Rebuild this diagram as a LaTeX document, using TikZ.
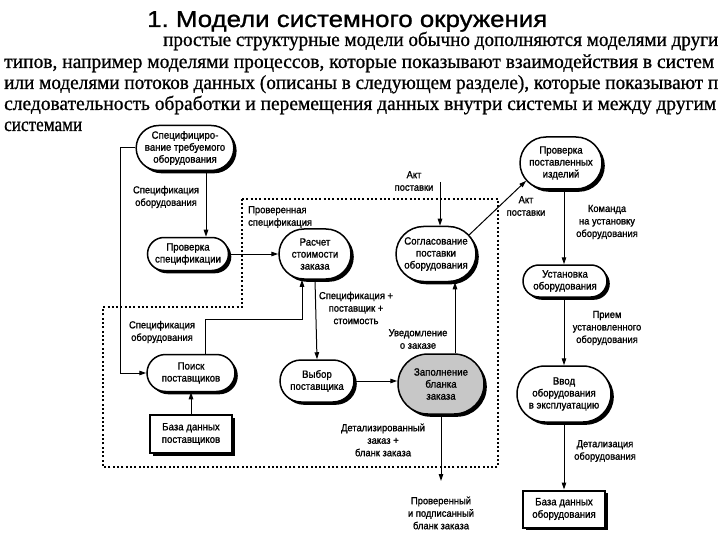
\documentclass[tikz,border=0pt]{standalone}
\usepackage{fontspec}
\setmainfont{Liberation Sans}
\newfontfamily\serifru[RawFeature={embolden=0.8}]{Liberation Serif}
\newfontfamily\diagfont[FakeStretch=0.92,RawFeature={embolden=1.2}]{Liberation Sans}
\newfontfamily\titlefont[RawFeature={embolden=1}]{Liberation Sans}
\usetikzlibrary{arrows.meta,shapes.misc,shadows}
\tikzset{
  shad/.style={drop shadow={shadow xshift=2.8pt,shadow yshift=-2.8pt,fill=black,opacity=1}},
  proc/.style={rounded rectangle, draw, line width=1.5pt, fill=white, align=center,
    inner sep=1pt, font=\diagfont\fontsize{10.5}{12}\selectfont, shad},
  store/.style={rectangle, draw, line width=2pt, fill=white, align=center,
    inner sep=1pt, font=\diagfont\fontsize{10.5}{12.5}\selectfont, shad},
  lbl/.style={align=center, inner sep=0pt, font=\diagfont\fontsize{10.2}{12.5}\selectfont},
  arr/.style={line width=1pt, -{Triangle[length=7pt,width=4.5pt]}},
  bound/.style={line width=1.8pt, dash pattern=on 2pt off 2.3pt},
  paraline/.style={anchor=base west, inner sep=0pt}
}
\newcommand{\pline}[2]{\resizebox{#1}{\height}{\serifru\fontsize{20}{22}\selectfont #2}}
\begin{document}
\begin{tikzpicture}[x=1pt,y=-1pt]
\useasboundingbox (0,0) rectangle (720,540);
\fill[white] (0,0) rectangle (720,540);

% title and text
\node[paraline] (title) at (147,27) {\resizebox{400pt}{\height}{\titlefont\fontsize{23}{26}\selectfont 1.\ Модели системного окружения}};
\node[paraline] (p1) at (163,46) {\pline{555pt}{простые структурные модели обычно дополняются моделями други}};
\node[paraline] (p2) at (4,68) {\pline{710pt}{типов, например моделями процессов, которые показывают взаимодействия в систем}};
\node[paraline] (p3) at (4,89) {\pline{714pt}{или моделями потоков данных (описаны в следующем разделе), которые показывают п}};
\node[paraline] (p4) at (4,110) {\pline{712pt}{следовательность обработки и перемещения данных внутри системы и между другим}};
\node[paraline] (p5) at (4,131) {\pline{78pt}{системами}};

% boundary
\draw[bound] (242,199) -- (498,199) -- (498,467) -- (103,467) -- (103,307) -- (242,307) -- cycle;

% nodes
\node[proc, minimum width=94pt, minimum height=45pt] (spec) at (185,148) {Специфициро-\\вание требуемого\\оборудования};
\node[proc, minimum width=83pt, minimum height=33pt] (chk) at (188,254) {Проверка\\спецификации};
\node[proc, minimum width=74pt, minimum height=50pt] (calc) at (315,254) {Расчет\\стоимости\\заказа};
\node[proc, minimum width=82pt, minimum height=55pt] (agree) at (436,254) {Согласование\\поставки\\оборудования};
\node[proc, minimum width=84pt, minimum height=52pt] (verify) at (561,163) {Проверка\\поставленных\\изделий};
\node[proc, minimum width=86pt, minimum height=32pt] (inst) at (565,281) {Установка\\оборудования};
\node[proc, minimum width=96pt, minimum height=56pt] (comm) at (564,394) {Ввод\\оборудования\\в эксплуатацию};
\node[store, minimum width=82pt, minimum height=37pt] (dbeq) at (564,509) {База данных\\оборудования};
\node[proc, minimum width=90pt, minimum height=37pt] (search) at (191,373) {Поиск\\поставщиков};
\node[store, minimum width=82pt, minimum height=38pt] (dbsup) at (191,434) {База данных\\поставщиков};
\node[proc, minimum width=76pt, minimum height=42pt] (sel) at (317,381) {Выбор\\поставщика};
\node[proc, minimum width=88pt, minimum height=60pt, fill=black!22] (fill) at (441,384) {Заполнение\\бланка\\заказа};

% helper coordinates
\coordinate (x120) at (120,0);
\coordinate (x205) at (205,0);
\coordinate (x206) at (206,0);
\coordinate (x302) at (302,0);
\coordinate (x440) at (440,0);
\coordinate (x455) at (455,0);
\coordinate (x564) at (564,0);
\coordinate (y319) at (0,319);
\coordinate (aktin) at (440,182);
\coordinate (outend) at (441,481);

% connectors
\draw[arr] (spec.south -| x206) -- (chk.north -| x206);
\draw[arr] (spec.west) -| (x120 |- search.west) -- (search.west);
\draw[arr] (chk.east) -- (calc.west);
\draw[arr] (search.north -| x205) -- (x205 |- y319) -| (calc.south -| x302);
\draw[arr] (calc.south) -- (sel.north);
\draw[arr] (sel.east) -- (sel.east -| fill.west);
\draw[arr] (fill.north -| x455) -- (agree.south -| x455);
\draw[arr] (fill.south) -- (outend);
\draw[arr] (aktin) -- (agree.north -| x440);
\draw[arr] (agree.30) -- (verify.207);
\draw[arr] (verify.south -| x564) -- (inst.north -| x564);
\draw[arr] (inst.south -| x564) -- (comm.north -| x564);
\draw[arr] (comm.south -| x564) -- (dbeq.north -| x564);
\draw[arr] (dbsup.north) -- (search.south);

% labels
\node[lbl] (l1) at (166,197) {Спецификация\\оборудования};
\node[lbl] (l2) at (162,332) {Спецификация\\оборудования};
\node[lbl, anchor=west, align=left] (l3) at (248,217) {Проверенная\\спецификация};
\node[lbl] (l4) at (356,308) {Спецификация +\\поставщик +\\стоимость};
\node[lbl] (l5) at (418,339) {Уведомление\\о заказе};
\node[lbl] (l6) at (383,440) {Детализированный\\заказ +\\бланк заказа};
\node[lbl] (l7) at (441,513) {Проверенный\\и подписанный\\бланк заказа};
\node[lbl] (l8) at (414,181) {Акт\\поставки};
\node[lbl] (l9) at (526,206) {Акт\\поставки};
\node[lbl] (l10) at (607,222) {Команда\\на установку\\оборудования};
\node[lbl] (l11) at (607,328) {Прием\\установленного\\оборудования};
\node[lbl] (l12) at (605,451) {Детализация\\оборудования};
\end{tikzpicture}
\end{document}
